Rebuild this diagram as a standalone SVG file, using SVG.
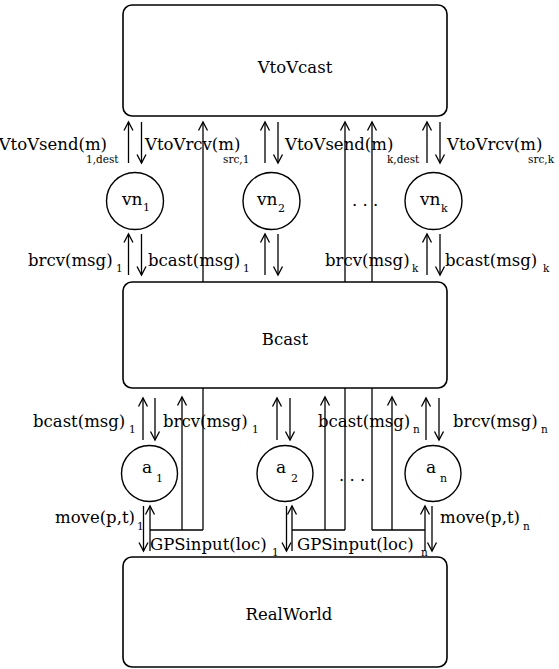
<svg xmlns="http://www.w3.org/2000/svg" width="559" height="669" viewBox="0 0 559 669">
<style>
.box{fill:#fff;stroke:#000;stroke-width:1.6}
.nd{fill:#fff;stroke:#000;stroke-width:1.4}
.ln{fill:none;stroke:#000;stroke-width:1.3}
.ar{fill:none;stroke:#000;stroke-width:1.3;marker-end:url(#ah)}
text{font-family:"DejaVu Serif","Liberation Serif",serif;fill:#000}
.bl{font-size:16.5px;text-anchor:middle}
.lb{font-size:16.5px}
.sb{font-size:10.5px}
.nl{font-size:17px}
.ns{font-size:11px}
</style>
<defs>
<marker id="ah" viewBox="0 0 12 12" refX="10" refY="6" markerWidth="12" markerHeight="12" markerUnits="userSpaceOnUse" orient="auto">
<path d="M1.5,1.5 L10,6 L1.5,10.5" fill="none" stroke="#000" stroke-width="1.3"/>
</marker>
</defs>

<g id="VtoVcast"><rect class="box" x="123" y="5" width="324" height="111" rx="9"/><text class="bl" x="295" y="73">VtoVcast</text></g>
<g id="Bcast"><rect class="box" x="123" y="282" width="324" height="106" rx="9"/><text class="bl" x="285" y="345">Bcast</text></g>
<g id="RealWorld"><rect class="box" x="123" y="557" width="324" height="110" rx="9"/><text class="bl" x="289" y="620">RealWorld</text></g>

<g id="vn1"><circle class="nd" cx="135" cy="201" r="28.5"/><text class="nl" x="122" y="205">vn</text><text class="ns" x="143" y="211">1</text></g>
<g id="vn2"><circle class="nd" cx="271.5" cy="201" r="28.5"/><text class="nl" x="257" y="205">vn</text><text class="ns" x="278" y="212">2</text></g>
<g id="vnk"><circle class="nd" cx="433.5" cy="201" r="28.5"/><text class="nl" x="420" y="205">vn</text><text class="ns" x="441" y="212">k</text></g>
<g id="a1"><circle class="nd" cx="149.5" cy="473.5" r="28"/><text class="nl" x="142" y="473">a</text><text class="ns" x="156" y="482">1</text></g>
<g id="a2"><circle class="nd" cx="285" cy="473.5" r="28"/><text class="nl" x="276" y="473">a</text><text class="ns" x="291" y="482">2</text></g>
<g id="an"><circle class="nd" cx="433" cy="473.5" r="28"/><text class="nl" x="426" y="473">a</text><text class="ns" x="440" y="482">n</text></g>

<text class="lb" x="352" y="206">. . .</text>
<text class="lb" x="339" y="481">. . .</text>

<g id="connectors">
<line class="ar" x1="128.5" y1="163" x2="128.5" y2="122"/>
<line class="ar" x1="141.5" y1="122" x2="141.5" y2="163"/>
<line class="ar" x1="265" y1="163" x2="265" y2="122"/>
<line class="ar" x1="278" y1="122" x2="278" y2="163"/>
<line class="ar" x1="427" y1="163" x2="427" y2="122"/>
<line class="ar" x1="440" y1="122" x2="440" y2="163"/>
<line class="ar" x1="203" y1="282" x2="203" y2="122"/>
<line class="ar" x1="345" y1="282" x2="345" y2="122"/>
<line class="ar" x1="372" y1="282" x2="372" y2="122"/>

<line class="ar" x1="128.5" y1="275" x2="128.5" y2="234"/>
<line class="ar" x1="141.5" y1="234" x2="141.5" y2="275"/>
<line class="ar" x1="265" y1="275" x2="265" y2="234"/>
<line class="ar" x1="278" y1="234" x2="278" y2="275"/>
<line class="ar" x1="427" y1="275" x2="427" y2="234"/>
<line class="ar" x1="440" y1="234" x2="440" y2="275"/>

<line class="ar" x1="143" y1="440" x2="143" y2="398"/>
<line class="ar" x1="155" y1="398" x2="155" y2="440"/>
<line class="ar" x1="277" y1="440" x2="277" y2="398"/>
<line class="ar" x1="290" y1="398" x2="290" y2="440"/>
<line class="ar" x1="426" y1="440" x2="426" y2="398"/>
<line class="ar" x1="439" y1="398" x2="439" y2="440"/>

<line class="ar" x1="182" y1="530" x2="182" y2="397"/>
<line class="ln" x1="203" y1="388" x2="203" y2="530"/>
<line class="ar" x1="325" y1="530" x2="325" y2="397"/>
<line class="ln" x1="345" y1="388" x2="345" y2="530"/>
<line class="ln" x1="372" y1="388" x2="372" y2="530"/>
<line class="ar" x1="392" y1="530" x2="392" y2="397"/>
<line class="ln" x1="150" y1="530" x2="203" y2="530"/>
<line class="ln" x1="292" y1="530" x2="345" y2="530"/>
<line class="ln" x1="372" y1="530" x2="425" y2="530"/>

<line class="ar" x1="143.5" y1="506" x2="143.5" y2="551"/>
<line class="ar" x1="150" y1="551" x2="150" y2="506"/>
<line class="ar" x1="286.5" y1="506" x2="286.5" y2="551"/>
<line class="ar" x1="292" y1="551" x2="292" y2="506"/>
<line class="ar" x1="425" y1="551" x2="425" y2="506"/>
<line class="ar" x1="432" y1="506" x2="432" y2="551"/>
</g>

<g id="labels">
<text class="lb" x="107" y="150" text-anchor="end">VtoVsend(m)</text><text class="sb" x="86" y="163">1,dest</text>
<text class="lb" x="145" y="150">VtoVrcv(m)</text><text class="sb" x="223" y="163">src,1</text>
<text class="lb" x="285" y="150">VtoVsend(m)</text><text class="sb" x="387" y="163">k,dest</text>
<text class="lb" x="447" y="150">VtoVrcv(m)</text><text class="sb" x="528" y="163">src,k</text>

<text class="lb" x="28" y="266">brcv(msg)</text><text class="sb" x="116" y="272">1</text>
<text class="lb" x="148" y="266">bcast(msg)</text><text class="sb" x="243" y="272">1</text>
<text class="lb" x="325" y="266">brcv(msg)</text><text class="sb" x="412" y="272">k</text>
<text class="lb" x="445" y="266">bcast(msg)</text><text class="sb" x="543" y="272">k</text>

<text class="lb" x="33" y="427">bcast(msg)</text><text class="sb" x="129" y="433">1</text>
<text class="lb" x="163" y="427">brcv(msg)</text><text class="sb" x="252" y="433">1</text>
<text class="lb" x="318" y="427">bcast(msg)</text><text class="sb" x="413" y="433">n</text>
<text class="lb" x="453" y="427">brcv(msg)</text><text class="sb" x="541" y="433">n</text>

<text class="lb" x="55" y="523">move(p,t)</text><text class="sb" x="137" y="530">1</text>
<text class="lb" x="150" y="550">GPSinput(loc)</text><text class="sb" x="272" y="556">1</text>
<text class="lb" x="297" y="550">GPSinput(loc)</text><text class="sb" x="421" y="556">n</text>
<text class="lb" x="440" y="523">move(p,t)</text><text class="sb" x="523" y="530">n</text>
</g>
</svg>
